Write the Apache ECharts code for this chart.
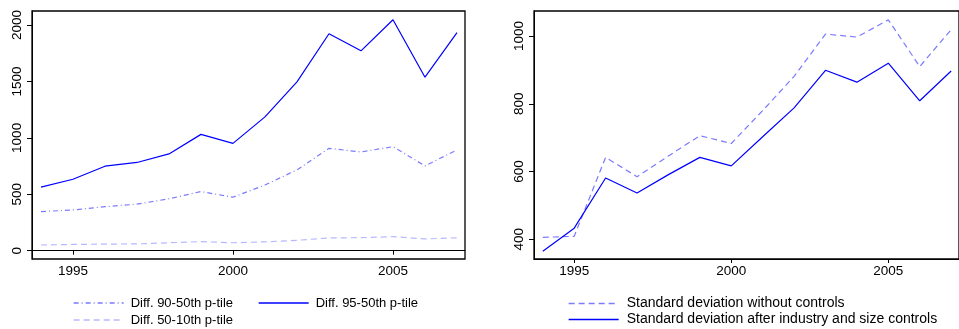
<!DOCTYPE html>
<html>
<head>
<meta charset="utf-8">
<script src="https://cdn.jsdelivr.net/npm/echarts@6/dist/echarts.min.js"></script>
<style>html,body{margin:0;padding:0;background:#fff}#c{width:959px;height:329px}</style>
</head>
<body>
<div id="c"></div>
<script>
const years = [1994,1995,1996,1997,1998,1999,2000,2001,2002,2003,2004,2005,2006,2007];
const diff9050 = [346,361,390,412,460,524,474,582,716,907,875,922,752,893];
const diff9550 = [563,633,749,782,858,1031,951,1186,1497,1923,1772,2047,1538,1934];
const diff5010 = [50,55,58,60,70,80,70,78,92,113,115,124,104,114];
const sdNoCtrl = [406,409,642,585,646,706,683,780,881,1006,997,1048,910,1019];
const sdCtrl = [365,433,581,537,591,642,617,703,788,899,864,920,809,897];
const xTicks = [1995,2000,2005];
const yTicksL = [0,500,1000,1500,2000];
const yTicksR = [400,600,800,1000];
const names = ['Diff. 90-50th p-tile','Diff. 95-50th p-tile','Diff. 50-10th p-tile','Standard deviation without controls','Standard deviation after industry and size controls'];

const pairs = v => years.map((y,i)=>[y,v[i]]);
const FONT = 'Liberation Sans, Arial, sans-serif';
const plain = v => String(v);
const C_MID = '#7b7bff', C_SOLID = '#0000ff', C_LIGHT = '#b8b8ff';
const DASHDOT = [5,3,1,3], DASH = [6,4];

function xAxis(gi){
  return {type:'value', gridIndex:gi, min:1993.72, max:2007.25,
    axisLine:{show:true, lineStyle:{color:'#000', width:1}},
    axisTick:{show:true, length:4, customValues:xTicks, lineStyle:{color:'#000'}},
    axisLabel:{customValues:xTicks, formatter:plain, margin:5, color:'#000', fontSize:13.5, fontFamily:FONT},
    splitLine:{show:false}};
}
function yAxis(gi,min,max,ticks){
  return {type:'value', gridIndex:gi, min:min, max:max,
    axisLine:{show:true, lineStyle:{color:'#000', width:1}},
    axisTick:{show:true, length:5, customValues:ticks, lineStyle:{color:'#000'}},
    axisLabel:{customValues:ticks, formatter:plain, rotate:90, margin:8, color:'#000', fontSize:13.5, fontFamily:FONT},
    splitLine:{show:false}};
}
function line(name,gi,data,color,type){
  return {name:name, type:'line', xAxisIndex:gi, yAxisIndex:gi, data:pairs(data),
    symbol:'none', silent:true, animation:false,
    lineStyle:{color:color, width:1.2, type:type}, itemStyle:{color:color}};
}
function leg(name,left,top,fs,pad,color,type){
  return {data:[name], left:left, top:top, itemWidth:50, itemHeight:10, padding:0,
    selectedMode:false, itemStyle:{opacity:0, borderWidth:0},
    lineStyle:{width:1.3, color:color, type:type, opacity:1},
    textStyle:{fontSize:fs, fontFamily:FONT, color:'#000', padding:[0,0,0,pad]}};
}

const chart = echarts.init(document.getElementById('c'), null, {renderer:'canvas'});
chart.setOption({
  animation:false,
  backgroundColor:'#fff',
  grid:[
    {left:32, top:11, width:433, height:248, show:true, borderColor:'#000', borderWidth:1.3},
    {left:534, top:11, width:433, height:248, show:true, borderColor:'#000', borderWidth:1.3}
  ],
  xAxis:[xAxis(0), xAxis(1)],
  yAxis:[yAxis(0,-74,2125,yTicksL), yAxis(1,342,1074,yTicksR)],
  legend:[
    leg(names[0],73,296.5,13,2,C_MID,DASHDOT),
    leg(names[1],258,296.5,13,2,C_SOLID,'solid'),
    leg(names[2],73,313.5,13,2,C_LIGHT,DASH),
    leg(names[3],568,296.5,14,3,C_MID,DASH),
    leg(names[4],568,312.5,14,3,C_SOLID,'solid')
  ],
  series:[
    line(names[0],0,diff9050,C_MID,DASHDOT),
    line(names[1],0,diff9550,C_SOLID,'solid'),
    line(names[2],0,diff5010,C_LIGHT,DASH),
    line(names[3],1,sdNoCtrl,C_MID,DASH),
    line(names[4],1,sdCtrl,C_SOLID,'solid')
  ]
});
</script>
</body>
</html>
